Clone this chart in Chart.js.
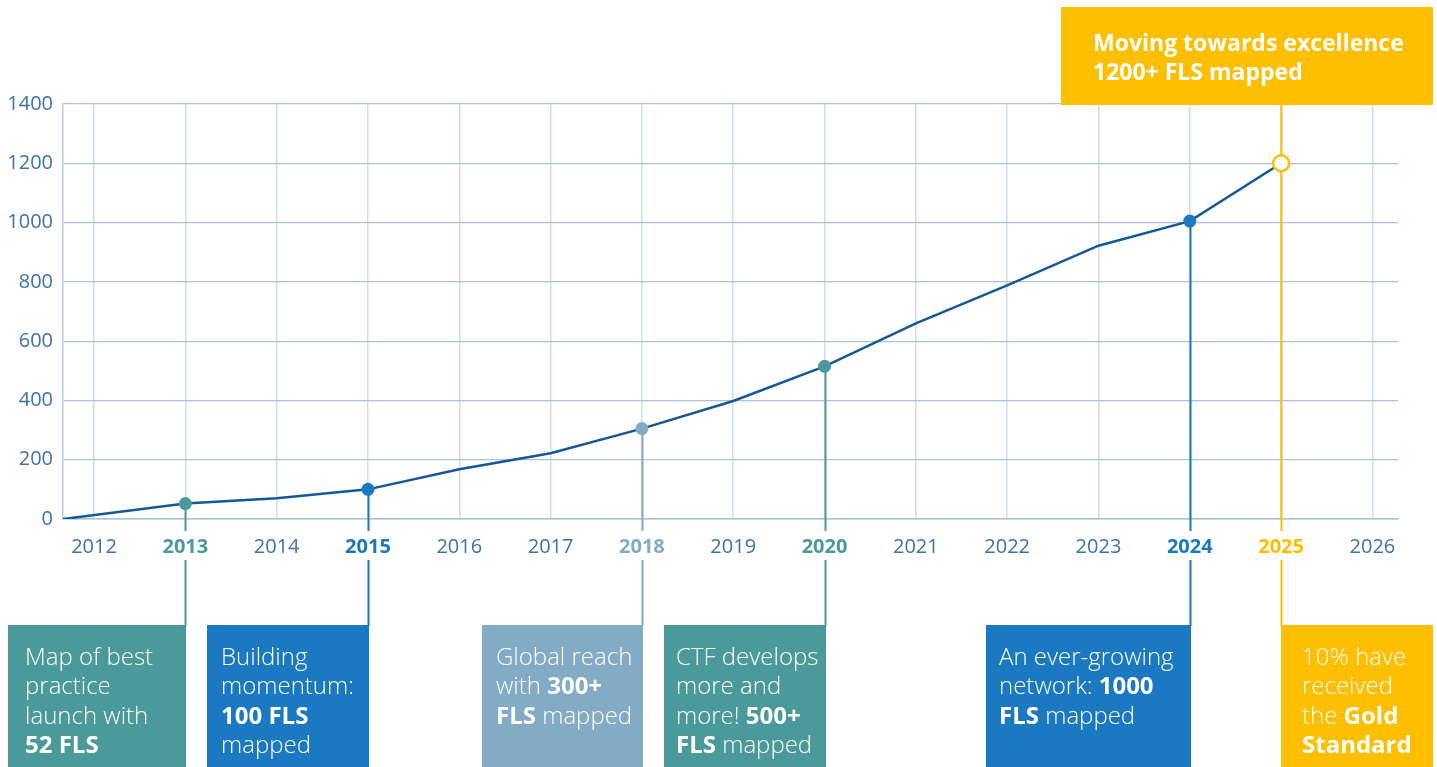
<!DOCTYPE html>
<html>
<head>
<meta charset="utf-8">
<script src="https://cdn.jsdelivr.net/npm/chart.js@4.4.1/dist/chart.umd.min.js"></script>
<style>
  html, body { margin: 0; padding: 0; background: #fff; }
  #wrap { width: 1437px; height: 767px; position: relative; }
</style>
</head>
<body>
<div id="wrap"><canvas id="chart"></canvas></div>
<script>
// Données
const years = [2011.66, 2013, 2014, 2015, 2016, 2017, 2018, 2019, 2020, 2021, 2022, 2023, 2024, 2025];
const flsCount = [0, 52, 70, 100, 168, 222, 305, 398, 515, 660, 788, 922, 1005, 1200];
const yearTicks = [2012, 2013, 2014, 2015, 2016, 2017, 2018, 2019, 2020, 2021, 2022, 2023, 2024, 2025, 2026];
const valueTicks = [0, 200, 400, 600, 800, 1000, 1200, 1400];
const milestoneYears = [2013, 2015, 2018, 2020, 2024, 2025];
const milestoneTexts = [
    ["Map of best", "practice", "launch with", "**52 FLS**"],
    ["Building", "momentum:", "**100 FLS**", "mapped"],
    ["Global reach", "with **300+**", "**FLS** mapped"],
    ["CTF develops", "more and", "more! **500+**", "**FLS** mapped"],
    ["An ever-growing", "network: **1000**", "**FLS** mapped"],
    ["10% have", "received", "the **Gold**", "**Standard**"]
];
const headlineText = ["Moving towards excellence", "1200+ FLS mapped"];

// Couleurs
const TEAL = "#4b9a9b";
const BLUE = "#1a79c1";
const STEEL = "#83abc6";
const GOLD = "#fdbf00";
const milestoneColors = [TEAL, BLUE, STEEL, TEAL, BLUE, GOLD];
const tickBlue = "#3d72aa";

const colorForYear = (y) => {
    const i = milestoneYears.indexOf(y);
    return i >= 0 ? milestoneColors[i] : tickBlue;
};

// Mise en page des encadrés (position par rapport à la ligne verticale)
const boxLayout = [
    { side: "left", width: 178, pad: 17 },
    { side: "left", width: 162, pad: 14 },
    { side: "left", width: 161, pad: 14 },
    { side: "left", width: 162, pad: 12 },
    { side: "left", width: 205, pad: 13 },
    { side: "right", width: 152, pad: 21 }
];

const drawRich = (ctx, line, x, y, size) => {
    const parts = line.split("**");
    let cx = x;
    parts.forEach((p, i) => {
        if (!p) return;
        ctx.font = (i % 2 === 1 ? "700 " : "300 ") + size + "px 'Open Sans'";
        ctx.fillText(p, cx, y);
        cx += ctx.measureText(p).width;
    });
};

const milestonePlugin = {
    id: "milestones",
    beforeDatasetsDraw(chart) {
        const { ctx, scales: { x, y } } = chart;
        const axisBottom = y.getPixelForValue(0);
        ctx.save();
        ctx.lineWidth = 2;
        milestoneYears.forEach((yr, i) => {
            const px = Math.round(x.getPixelForValue(yr)) + 0.5;
            const v = flsCount[years.indexOf(yr)];
            let top = y.getPixelForValue(v);
            if (i === milestoneYears.length - 1) top = 105;
            ctx.strokeStyle = milestoneColors[i];
            ctx.beginPath();
            ctx.moveTo(px, top);
            ctx.lineTo(px, axisBottom + 12);
            ctx.moveTo(px, axisBottom + 41);
            ctx.lineTo(px, 626);
            ctx.stroke();
        });
        ctx.restore();
    },
    afterDraw(chart) {
        const { ctx, scales: { x } } = chart;
        ctx.save();
        ctx.textBaseline = "alphabetic";
        milestoneYears.forEach((yr, i) => {
            const px = Math.round(x.getPixelForValue(yr));
            const lay = boxLayout[i];
            const bx = lay.side === "left" ? px - lay.width + 1 : px;
            ctx.fillStyle = milestoneColors[i];
            ctx.fillRect(bx, 625, lay.width, 767 - 625);
            ctx.fillStyle = "#ffffff";
            milestoneTexts[i].forEach((line, j) => {
                drawRich(ctx, line, bx + lay.pad, 665 + j * 29.3, 24);
            });
        });
        // Encadré du haut
        const gx = Math.round(x.getPixelForValue(2025));
        ctx.fillStyle = GOLD;
        ctx.fillRect(gx - 220, 7, 372, 98);
        ctx.fillStyle = "#ffffff";
        ctx.font = "700 23px 'Open Sans'";
        headlineText.forEach((line, j) => {
            ctx.fillText(line, gx - 188, 51 + j * 29);
        });
        ctx.restore();
    }
};

const pointColors = years.map((yr) => {
    if (yr === 2025) return "#ffffff";
    const i = milestoneYears.indexOf(yr);
    return i >= 0 ? milestoneColors[i] : "#14589a";
});
const pointBorders = years.map((yr) => {
    const i = milestoneYears.indexOf(yr);
    return i >= 0 ? milestoneColors[i] : "#14589a";
});
const pointRadii = years.map((yr) => (yr === 2025 ? 8 : (milestoneYears.includes(yr) ? 6.5 : 0)));

const tickValue = (c) => (c && c.tick ? c.tick.value : null);

const ctx = document.getElementById("chart").getContext("2d");
const chart = new Chart(ctx, {
    type: "line",
    data: {
        datasets: [{
            data: years.map((yr, i) => ({ x: yr, y: flsCount[i] })),
            borderColor: "#14589a",
            borderWidth: 2.5,
            pointBackgroundColor: pointColors,
            pointBorderColor: pointBorders,
            pointBorderWidth: years.map((yr) => (yr === 2025 ? 2.5 : 0)),
            pointRadius: pointRadii,
            tension: 0
        }]
    },
    options: {
        responsive: true,
        maintainAspectRatio: false,
        animation: false,
        layout: { padding: { left: 0, top: 104, right: 39, bottom: 0 } },
        plugins: { legend: { display: false }, tooltip: { enabled: false } },
        scales: {
            x: {
                type: "linear",
                min: 2011.66,
                max: 2026.28,
                afterBuildTicks: (axis) => { axis.ticks = yearTicks.map((v) => ({ value: v })); },
                afterFit: (axis) => { axis.height = 248; },
                grid: { color: "#cfdeed", lineWidth: 1.5, drawTicks: false },
                border: { color: "#a9c1d9", width: 1.5 },
                ticks: {
                    autoSkip: false,
                    maxRotation: 0,
                    padding: 16,
                    callback: (v) => String(v),
                    color: (c) => colorForYear(tickValue(c)),
                    font: (c) => ({
                        family: "'Open Sans'",
                        size: 20,
                        weight: milestoneYears.includes(tickValue(c)) ? "bold" : "normal"
                    })
                }
            },
            y: {
                min: 0,
                max: 1400,
                afterBuildTicks: (axis) => { axis.ticks = valueTicks.map((v) => ({ value: v })); },
                afterFit: (axis) => { axis.width = 63; },
                grid: { color: "#a9c1d9", lineWidth: 1.2, drawTicks: false },
                border: { color: "#b9cde2", width: 1.5 },
                ticks: {
                    padding: 10,
                    callback: (v) => String(v),
                    color: tickBlue,
                    font: { family: "'Open Sans'", size: 20, weight: "normal" }
                }
            }
        }
    },
    plugins: [milestonePlugin]
});
</script>
</body>
</html>
